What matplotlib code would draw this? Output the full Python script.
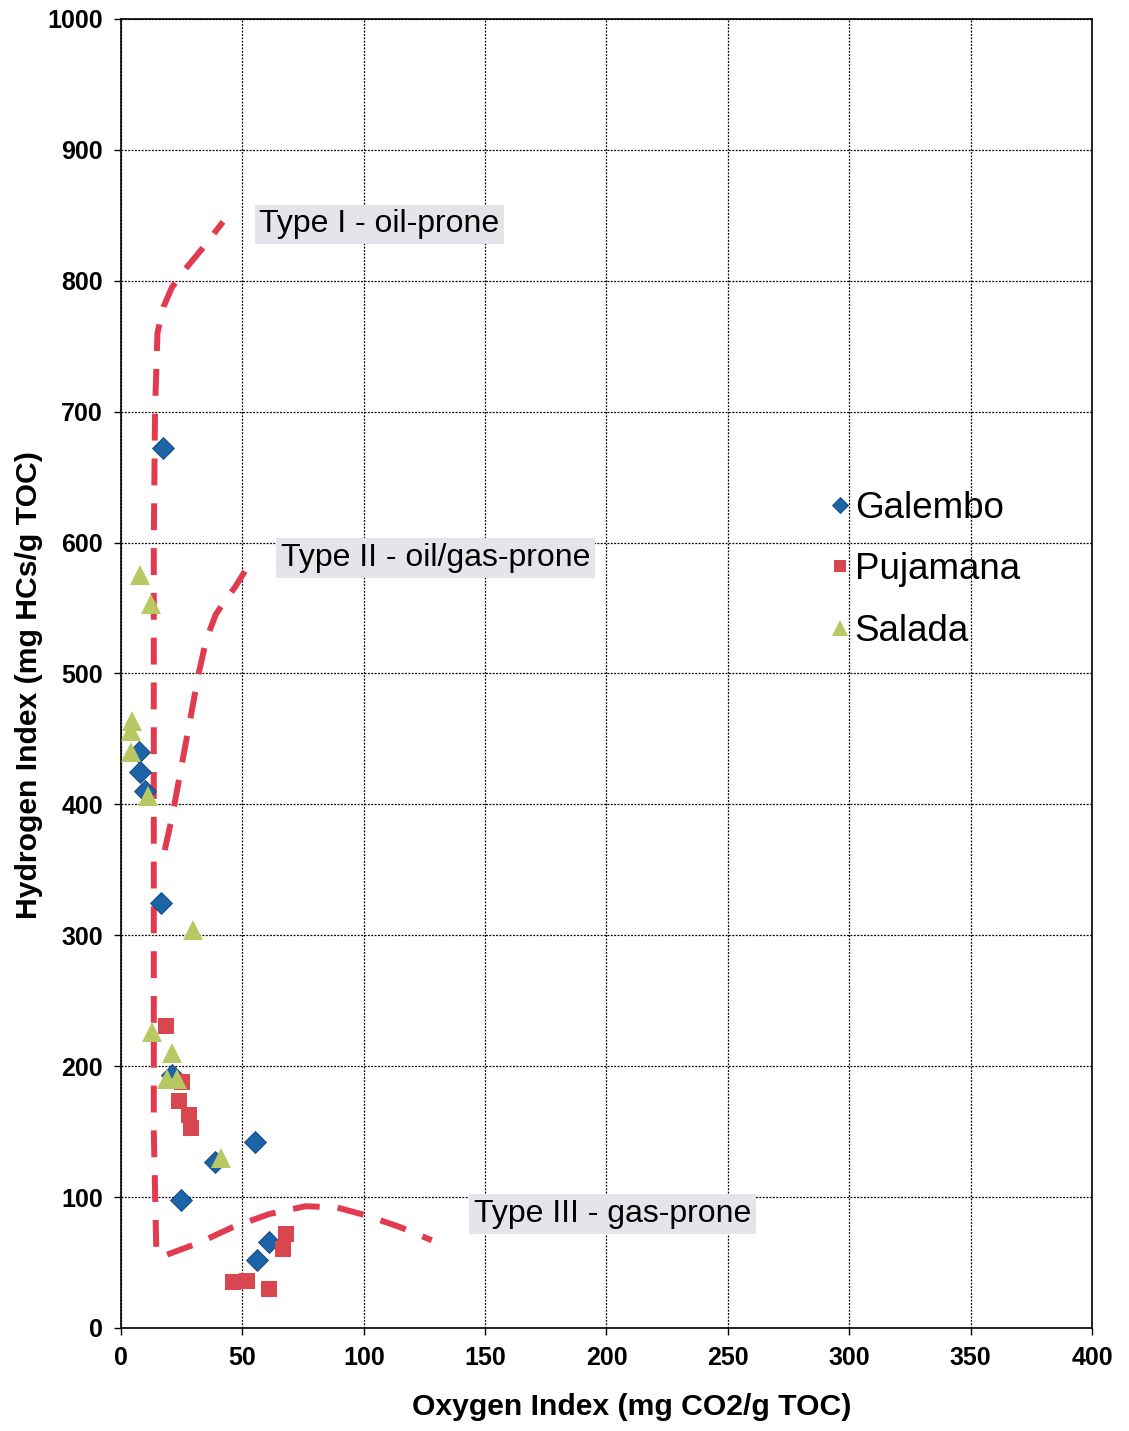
import matplotlib.pyplot as plt

plt.rcParams["font.family"] = ["Liberation Sans", "DejaVu Sans"]

# sample data (Oxygen Index, Hydrogen Index)
galembo_oi = [17.3, 7.4, 8, 10, 16.5, 21, 55, 38.7, 24.7, 61, 56]
galembo_hi = [672, 440, 425, 410, 325, 193, 142, 127, 98, 66, 52]

pujamana_oi = [18.5, 25, 24, 28, 29, 68, 66.7, 46, 52, 61]
pujamana_hi = [231, 188, 173, 163, 153, 72, 60, 35, 36, 30]

salada_oi = [7.8, 12.3, 4.5, 4, 4, 11, 29.6, 12.8, 21, 19, 23, 41]
salada_hi = [575, 553, 464, 456, 440, 406, 304, 226, 210, 190, 190, 130]

# kerogen type boundaries
type1_x = [14.5, 13.5, 13.5, 13.5, 13.5, 14, 15, 17.5, 21, 27, 35, 42]
type1_y = [62, 150, 300, 450, 600, 700, 760, 780, 795, 810, 828, 845]
type2_x = [18, 21, 25, 29, 32, 35, 39, 43, 47, 51]
type2_y = [365, 390, 430, 470, 500, 525, 545, 556, 566, 578]
type3_x = [19, 32, 46, 61, 76, 89, 101, 115, 128]
type3_y = [56, 65, 77, 87, 93, 92, 86, 77, 67]

line_color = "#e23a4e"

fig = plt.figure(figsize=(11.29, 14.31), dpi=100)
ax = fig.add_axes([0.1072, 0.072, 0.86, 0.9148])

for cx, cy in [(type1_x, type1_y), (type2_x, type2_y), (type3_x, type3_y)]:
    ax.plot(cx, cy, color=line_color, linewidth=4.3, linestyle=(0, (4.5, 3)),
            zorder=2)

ax.plot(galembo_oi, galembo_hi, "D", color="#1b64a8", markersize=11.5,
        markeredgecolor="#123f75", markeredgewidth=0.6, label="Galembo", zorder=3)
ax.plot(pujamana_oi, pujamana_hi, "s", color="#d8474f", markersize=11.5,
        markeredgewidth=0, label="Pujamana", zorder=3)
ax.plot(salada_oi, salada_hi, "^", color="#b8c963", markersize=14.5,
        markeredgewidth=0, label="Salada", zorder=3)

box = dict(boxstyle="square,pad=0.15", facecolor="#e4e4ea", edgecolor="none")
ax.text(57, 843, "Type I - oil-prone", fontsize=23, va="center", bbox=box, zorder=4)
ax.text(66, 588, "Type II - oil/gas-prone", fontsize=23, va="center", bbox=box, zorder=4)
ax.text(145.5, 87, "Type III - gas-prone", fontsize=23, va="center", bbox=box, zorder=4)

ax.set_xlim(0, 400)
ax.set_ylim(0, 1000)
ax.set_xticks(range(0, 401, 50))
ax.set_yticks(range(0, 1001, 100))
ax.tick_params(labelsize=18, length=5, width=1, pad=8)
for lab in ax.get_xticklabels() + ax.get_yticklabels():
    lab.set_fontweight("bold")

ax.grid(True, color="black", linestyle=(0, (1.5, 1.2)), linewidth=0.9)
ax.set_axisbelow(True)
for sp in ax.spines.values():
    sp.set_linewidth(1.2)

ax.set_xlabel("Oxygen Index (mg CO2/g TOC)", fontsize=21.7, fontweight="bold")
ax.set_ylabel("Hydrogen Index (mg HCs/g TOC)", fontsize=21.7, fontweight="bold")
ax.xaxis.set_label_coords(0.526, -0.050)
ax.yaxis.set_label_coords(-0.080, 0.491)

leg = ax.legend(loc="upper left", bbox_to_anchor=(0.695, 0.665), frameon=False,
                fontsize=26.5, handlelength=0.6, handletextpad=0.1,
                labelspacing=0.72, markerscale=0.75)

fig.savefig("out.png", dpi=100)
